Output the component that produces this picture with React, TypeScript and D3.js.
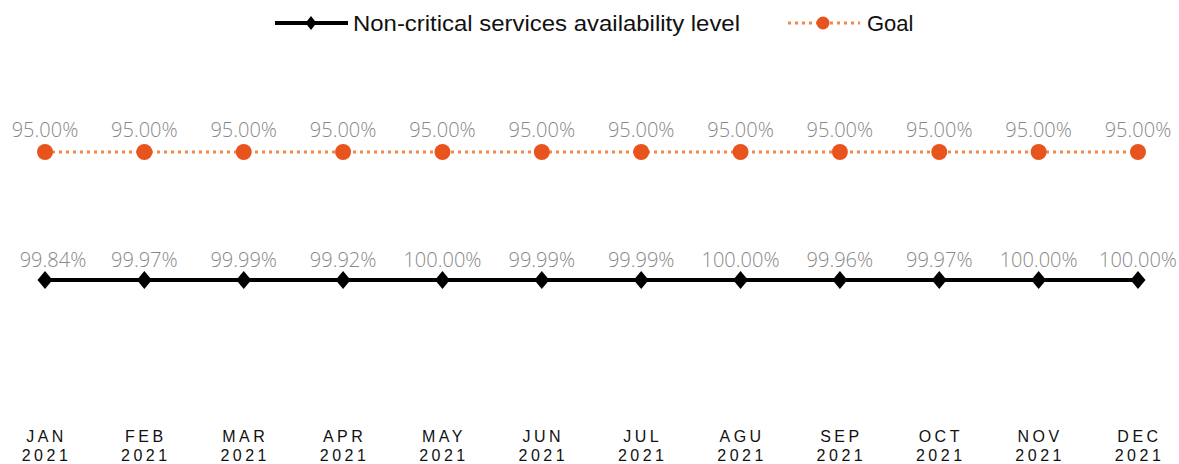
import React from "react";
import * as d3 from "d3";

const months = ["JAN", "FEB", "MAR", "APR", "MAY", "JUN", "JUL", "AGU", "SEP", "OCT", "NOV", "DEC"];
const year = "2021";
const availability = [99.84, 99.97, 99.99, 99.92, 100.0, 99.99, 99.99, 100.0, 99.96, 99.97, 100.0, 100.0];
const goal = [95, 95, 95, 95, 95, 95, 95, 95, 95, 95, 95, 95];
const seriesNames = ["Goal", "Non-critical services availability level"];

const W = 1179;
const H = 464;

export default function App() {
  const x = d3.scalePoint<string>().domain(months).range([45, 1138]);
  const row = d3.scalePoint<string>().domain(seriesNames).range([152, 280]);
  const fmt = (v: number) => d3.format(".2f")(v) + "%";

  const yGoal = row("Goal")!;
  const yAvail = row("Non-critical services availability level")!;

  const line = (y: number) =>
    d3.line<number>().x((_, i) => x(months[i])!).y(() => y);

  const diamond = (cx: number, cy: number, w: number, h: number) =>
    `M${cx},${cy - h / 2}L${cx + w / 2},${cy}L${cx},${cy + h / 2}L${cx - w / 2},${cy}Z`;

  const labelFont = "'Open Sans', sans-serif";
  const axisFont = "'Liberation Sans', Arial, sans-serif";

  return (
    <svg width={W} height={H} style={{ position: "absolute", left: 0, top: 0, background: "#fff" }}>
      {/* Legend */}
      <g>
        <line x1={275} x2={348} y1={23} y2={23} stroke="#000" strokeWidth={4} />
        <path d={diamond(311, 23, 11, 14)} fill="#000" />
        <text x={353} y={31} fontFamily={axisFont} fontSize={22} fill="#111" textLength={387} lengthAdjust="spacingAndGlyphs">
          {seriesNames[1]}
        </text>
        <line x1={788} x2={860} y1={23} y2={23} stroke="#EE8A4A" strokeWidth={3} strokeDasharray="3 4" />
        <circle cx={823} cy={23} r={6.5} fill="#E8541E" />
        <text x={867} y={31} fontFamily={axisFont} fontSize={22} fill="#111">
          {seriesNames[0]}
        </text>
      </g>

      {/* Goal series */}
      <path d={line(yGoal)(goal) || ""} fill="none" stroke="#EE8A4A" strokeWidth={3} strokeDasharray="3 4" />
      {goal.map((v, i) => (
        <g key={"g" + i}>
          <circle cx={x(months[i])!} cy={yGoal} r={8} fill="#E8541E" />
          <text x={x(months[i])!} y={yGoal - 15} textAnchor="middle" fontFamily={labelFont} fontWeight={300} fontSize={20} fill="#888">
            {fmt(v)}
          </text>
        </g>
      ))}

      {/* Availability series */}
      <path d={line(yAvail)(availability) || ""} fill="none" stroke="#000" strokeWidth={4} />
      {availability.map((v, i) => (
        <g key={"a" + i}>
          <path d={diamond(x(months[i])!, yAvail, 15, 18)} fill="#000" />
          <text x={x(months[i])! + (i === 0 ? 8 : 0)} y={yAvail - 13} textAnchor="middle" fontFamily={labelFont} fontWeight={300} fontSize={20} fill="#888">
            {fmt(v)}
          </text>
        </g>
      ))}

      {/* X axis labels */}
      {months.map((m) => (
        <text key={m} textAnchor="middle" fontFamily={axisFont} fontSize={16} fill="#111" letterSpacing={3.5}>
          <tspan x={x(m)! + 1.5} y={442}>{m}</tspan>
          <tspan x={x(m)! + 1.5} y={461}>{year}</tspan>
        </text>
      ))}
    </svg>
  );
}
